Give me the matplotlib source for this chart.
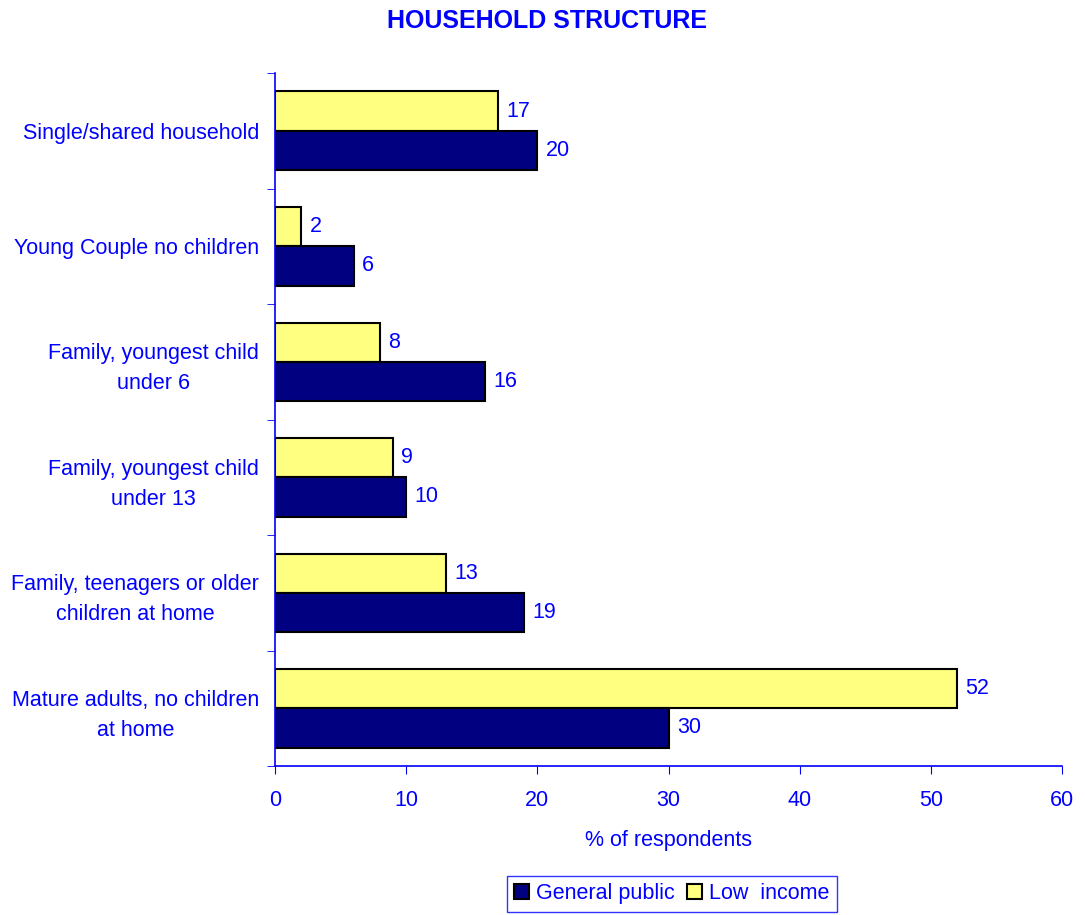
import matplotlib.pyplot as plt
import numpy as np

plt.rcParams['font.family'] = ['Liberation Sans', 'DejaVu Sans']

categories = ['Single/shared household',
              'Young Couple no children',
              'Family, youngest child\nunder 6',
              'Family, youngest child\nunder 13',
              'Family, teenagers or older\nchildren at home',
              'Mature adults, no children\nat home']
general_public = [20, 6, 16, 10, 19, 30]
low_income = [17, 2, 8, 9, 13, 52]
x_ticks = [0, 10, 20, 30, 40, 50, 60]

BLUE = '#0000FF'
NAVY = '#000080'
YELLOW = '#FFFF80'
FS = 15.5


def main():
    fig = plt.figure(figsize=(10.85, 9.15), dpi=100)
    ax = fig.add_axes([0.2535, 0.1628, 0.7253, 0.7574])

    pos = np.arange(len(categories))
    h = 0.34
    b_low = ax.barh(pos - h / 2, low_income, height=h, color=YELLOW,
                    edgecolor='black', linewidth=1.5, label='Low  income')
    b_gen = ax.barh(pos + h / 2, general_public, height=h, color=NAVY,
                    edgecolor='black', linewidth=1.5, label='General public')

    for bars, vals in ((b_low, low_income), (b_gen, general_public)):
        for bar, v in zip(bars, vals):
            ax.annotate(str(v), (bar.get_width(), bar.get_y() + bar.get_height() / 2),
                        xytext=(6, 0), textcoords='offset points',
                        va='center', ha='left', color=BLUE, fontsize=FS)

    ax.set_xlim(0, 60)
    ax.set_ylim(len(categories) - 0.5, -0.5)
    ax.set_xticks(x_ticks)
    ax.set_xticklabels([str(t) for t in x_ticks], color=BLUE, fontsize=FS)
    ax.tick_params(axis='x', colors=BLUE, direction='out', length=6, pad=11,
                   labelcolor=BLUE)

    ax.set_yticks(pos)
    ax.set_yticklabels(categories, color=BLUE, fontsize=FS, ha='right',
                       multialignment='center', linespacing=1.55)
    ax.tick_params(axis='y', which='major', length=0, pad=11.5)
    ax.set_yticks(np.arange(-0.5, len(categories)), minor=True)
    ax.tick_params(axis='y', which='minor', colors=BLUE, direction='out', length=6)

    for s in ('top', 'right'):
        ax.spines[s].set_visible(False)
    for s in ('left', 'bottom'):
        ax.spines[s].set_color(BLUE)
        ax.spines[s].set_linewidth(1.2)

    ax.set_xlabel('% of respondents', color=BLUE, fontsize=FS, labelpad=14)
    fig.text(0.504, 0.977, 'HOUSEHOLD STRUCTURE', ha='center', va='center',
             color=BLUE, fontsize=18, fontweight='bold')

    leg = fig.legend(handles=[b_gen, b_low], loc='center', ncol=2,
                     bbox_to_anchor=(0.619, 0.023), frameon=True, fancybox=False,
                     fontsize=FS, handlelength=0.7, handleheight=0.7,
                     handletextpad=0.3, columnspacing=0.6, borderpad=0.35)
    leg.get_frame().set_edgecolor(BLUE)
    for t in leg.get_texts():
        t.set_color(BLUE)

    fig.savefig('out.png', dpi=100)


if __name__ == '__main__':
    main()
